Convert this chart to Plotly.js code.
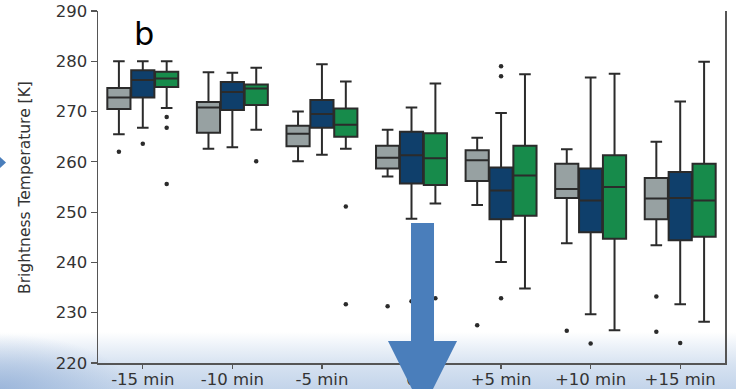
<!DOCTYPE html>
<html>
<head>
<meta charset="utf-8">
<script src="https://cdn.plot.ly/plotly-3.0.1.min.js"></script>
<style>
  html, body { margin: 0; padding: 0; }
  #wrap {
    width: 736px; height: 389px; position: relative; overflow: hidden;
    background:
      radial-gradient(ellipse 130px 55px at 0px 389px, rgba(140,170,212,0.7), rgba(140,170,212,0) 100%),
      linear-gradient(to bottom, #ffffff 0px, #ffffff 332px, #eef3f9 345px, #d6e2f1 365px, #c3d4ea 389px);
  }
  #chart { width: 736px; height: 389px; }
</style>
</head>
<body>
<div id="wrap"><div id="chart"></div></div>
<script>
// ---- data ----
const categories = ['-15 min', '-10 min', '-5 min', '0', '+5 min', '+10 min', '+15 min'];

const grayLower  = [265.5, 262.6, 260.1, 257.1, 251.4, 243.8, 243.4];
const grayQ1     = [270.5, 265.8, 263.1, 258.7, 256.2, 252.8, 248.6];
const grayMedian = [272.8, 270.8, 265.6, 260.8, 260.3, 254.6, 252.7];
const grayQ3     = [274.7, 271.9, 267.2, 263.2, 262.3, 259.6, 256.8];
const grayUpper  = [280.0, 277.8, 270.0, 266.4, 264.8, 262.5, 264.0];
const grayOutliers = [[262.0], [], [], [231.3], [227.5], [226.4], [233.2, 226.2]];

const blueLower  = [266.8, 262.9, 261.4, 248.7, 240.1, 229.7, 231.7];
const blueQ1     = [272.8, 270.3, 266.8, 255.7, 248.6, 246.0, 244.4];
const blueMedian = [276.3, 273.9, 269.5, 261.3, 254.3, 252.3, 252.8];
const blueQ3     = [278.2, 275.9, 272.3, 266.0, 258.9, 258.7, 258.0];
const blueUpper  = [280.0, 277.7, 279.4, 270.8, 269.7, 276.8, 272.0];
const blueOutliers = [[263.6], [], [], [232.3], [279.0, 277.0, 232.9], [223.9], [224.0]];

const greenLower  = [270.7, 266.4, 262.6, 251.7, 234.8, 226.5, 228.2];
const greenQ1     = [274.9, 271.3, 265.0, 255.4, 249.3, 244.7, 245.1];
const greenMedian = [276.6, 274.6, 267.4, 260.7, 257.3, 255.0, 252.3];
const greenQ3     = [277.9, 275.4, 270.6, 265.7, 263.2, 261.3, 259.6];
const greenUpper  = [280.0, 278.7, 276.0, 275.6, 277.4, 277.5, 279.9];
const greenOutliers = [[268.9, 266.8, 255.6], [260.1], [251.1, 231.7], [232.9], [], [], []];

const yTicks = [220, 230, 240, 250, 260, 270, 280, 290];

// ---- styling ----
const series = [
  {name: 'gray',  color: '#97a1a2', lo: grayLower,  q1: grayQ1,  med: grayMedian,  q3: grayQ3,  hi: grayUpper,  out: grayOutliers},
  {name: 'blue',  color: '#0f3f6b', lo: blueLower,  q1: blueQ1,  med: blueMedian,  q3: blueQ3,  hi: blueUpper,  out: blueOutliers},
  {name: 'green', color: '#178b4b', lo: greenLower, q1: greenQ1, med: greenMedian, q3: greenQ3, hi: greenUpper, out: greenOutliers}
];
const FONT = 'DejaVu Sans, sans-serif';
const lineCol = '#2b2b2b';
const groupWidth = 0.8;
const slot = groupWidth / series.length;

const idx = categories.map((c, i) => i);
const traces = [];
series.forEach((s, k) => {
  const off = (k - (series.length - 1) / 2) * slot;
  const xs = idx.map(i => i + off);
  traces.push({
    type: 'box', name: s.name, x: xs,
    q1: s.q1, median: s.med, q3: s.q3, lowerfence: s.lo, upperfence: s.hi,
    width: slot * 0.97, whiskerwidth: 0.5,
    fillcolor: s.color, line: {color: lineCol, width: 2},
    boxpoints: false, showlegend: false, hoverinfo: 'skip'
  });
  const ox = [], oy = [];
  s.out.forEach((arr, i) => arr.forEach(v => { ox.push(i + off); oy.push(v); }));
  traces.push({
    type: 'scatter', mode: 'markers', x: ox, y: oy, name: s.name + ' outliers',
    marker: {color: '#2b2b2b', size: 4.5}, showlegend: false, hoverinfo: 'skip', cliponaxis: false
  });
});

// plot area in pixels: left 98, right 725, top 11, bottom 363
const L = 98, R = 725, T = 11, B = 363;
const px = x => (x - L) / (R - L);
const py = y => (B - y) / (B - T);
function pathOf(pts) {
  return 'M ' + pts.map(p => px(p[0]).toFixed(4) + ',' + py(p[1]).toFixed(4)).join(' L ') + ' Z';
}
const arrowPts = [[411, 223], [434, 223], [434, 341], [457, 341], [422.5, 410], [388, 341], [411, 341]];
const sideArrow = [[0, 157], [6, 162.5], [0, 168]];

const layout = {
  width: 736, height: 389,
  margin: {l: L, r: 736 - R, t: T, b: 389 - B},
  paper_bgcolor: 'rgba(0,0,0,0)', plot_bgcolor: 'rgba(0,0,0,0)',
  font: {family: FONT, color: '#333333', size: 16},
  showlegend: false,
  boxmode: 'overlay',
  xaxis: {
    range: [-0.5, categories.length - 0.5],
    tickmode: 'array', tickvals: idx, ticktext: categories,
    showgrid: false, zeroline: false,
    showline: true, linecolor: '#555555', linewidth: 1.5,
    ticks: 'outside', ticklen: 4, tickcolor: '#555555', tickwidth: 1.2,
    ticklabelstandoff: -3,
    tickfont: {family: FONT, size: 16.5, color: '#333333'}
  },
  yaxis: {
    range: [220, 290],
    tickmode: 'array', tickvals: yTicks,
    showgrid: false, zeroline: false,
    showline: true, mirror: true, linecolor: '#555555', linewidth: 1.5,
    ticks: 'outside', ticklen: 6, tickcolor: '#555555', tickwidth: 1.2,
    tickfont: {family: FONT, size: 16.5, color: '#333333'}
  },
  annotations: [
    {text: 'Brightness Temperature [K]', xref: 'paper', yref: 'paper',
     x: px(25), y: py(188), xanchor: 'center', yanchor: 'middle', textangle: -90,
     showarrow: false, font: {family: FONT, size: 15.5, color: '#333333'}},
    {text: 'b', xref: 'paper', yref: 'paper', x: px(144), y: py(34),
     xanchor: 'center', yanchor: 'middle', showarrow: false,
     font: {family: FONT, size: 32, color: '#000000'}}
  ],
  shapes: [
    {type: 'path', xref: 'paper', yref: 'paper', path: pathOf(arrowPts),
     fillcolor: '#4a7ebb', line: {width: 0}, layer: 'above'},
    {type: 'path', xref: 'paper', yref: 'paper', path: pathOf(sideArrow),
     fillcolor: '#4a7ebb', line: {width: 0}, layer: 'above'}
  ]
};

Plotly.newPlot('chart', traces, layout, {staticPlot: true, displayModeBar: false});
</script>
</body>
</html>
